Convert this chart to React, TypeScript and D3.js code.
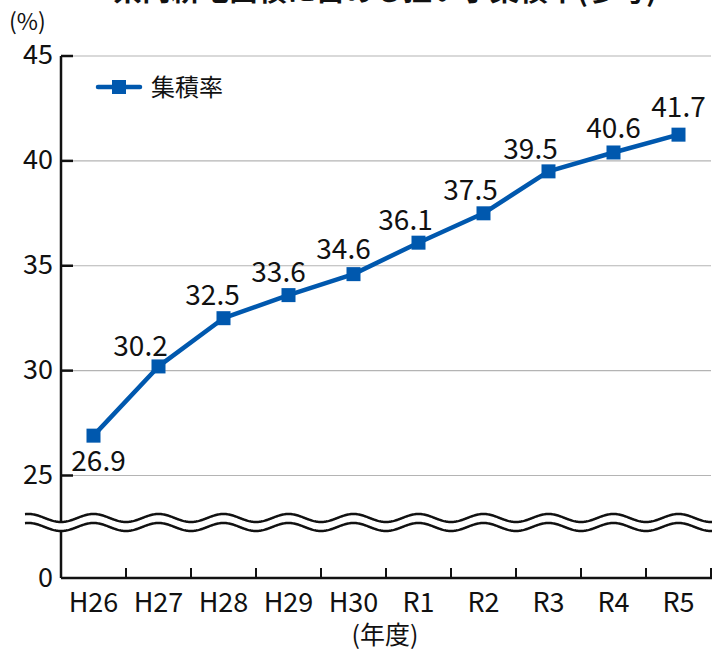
import React from "react";
import * as d3 from "d3";

const categories = ["H26", "H27", "H28", "H29", "H30", "R1", "R2", "R3", "R4", "R5"];
// plotted positions
const values = [26.9, 30.2, 32.5, 33.6, 34.6, 36.1, 37.5, 39.5, 40.4, 41.25];
// printed data labels
const valueLabels = ["26.9", "30.2", "32.5", "33.6", "34.6", "36.1", "37.5", "39.5", "40.6", "41.7"];
const yTicks = [25, 30, 35, 40, 45];
const seriesName = "集積率";
const title = "県内耕地面積に占める担い手集積率(参考)";

// label offsets (layout) relative to each point
const labelDx = [5, -18, -11, -10, -10, -13, -13, -18, 0, 0];
const labelDy = [35, -10, -13, -13, -15, -13, -13, -12, -14, -18];

const W = 725;
const H = 652;
const left = 61;
const right = 711;
const top = 56;
const y25 = 475.5;
const yZero = 578;
const blue = "#0058ae";
const font = "'Noto Sans CJK JP', 'Noto Sans', sans-serif";

export default function App() {
  const x = d3.scaleBand<string>().domain(categories).range([left, right]).paddingInner(0).paddingOuter(0);
  const y = d3.scaleLinear().domain([25, 45]).range([y25, top]);
  const cx = (c: string) => (x(c) as number) + x.bandwidth() / 2;

  const line = d3
    .line<number>()
    .x((_, i) => cx(categories[i]))
    .y((v) => y(v));

  // wavy break lines
  const waveStart = 25;
  const waveEnd = 712;
  const period = x.bandwidth();
  const amp = 4;
  const wavePts = (mid: number) =>
    d3.range(waveStart, waveEnd + 0.5, 1).map((px) => [px, mid + amp * Math.cos((2 * Math.PI * (px - left)) / period)] as [number, number]);
  const upper = wavePts(518);
  const lower = wavePts(527);
  const lineGen = d3.line();
  const fillPoly = [...upper, ...lower.slice().reverse()];

  const tickXs = d3.range(0, categories.length + 1).map((i) => left + i * x.bandwidth());

  return (
    <svg
      width={W}
      height={H}
      style={{ position: "absolute", left: 0, top: 0, overflow: "visible" }}
      fontFamily={font}
    >
      <rect x={0} y={0} width={W} height={H} fill="#fff" />
      {/* title (cut off at top) */}
      <text x={385} y={1} textAnchor="middle" fontSize={29} fontWeight="bold" fill="#111">
        {title}
      </text>
      <text x={9} y={30} fontSize={23} fill="#111">(%)</text>

      {/* grid lines */}
      {yTicks.map((t) => (
        <line key={"g" + t} x1={left} x2={right} y1={y(t)} y2={y(t)} stroke="#b4b4b4" strokeWidth={1.2} />
      ))}

      {/* y axis */}
      <line x1={left} x2={left} y1={top} y2={yZero} stroke="#111" strokeWidth={2.5} />
      {yTicks.map((t) => (
        <g key={"t" + t}>
          <line x1={left} x2={left + 12} y1={y(t)} y2={y(t)} stroke="#111" strokeWidth={2.5} />
          <text x={53} y={y(t) + 8} textAnchor="end" fontSize={27} fill="#111">
            {t}
          </text>
        </g>
      ))}
      <text x={53} y={yZero + 9} textAnchor="end" fontSize={27} fill="#111">0</text>

      {/* x axis */}
      <line x1={left} x2={right + 1} y1={yZero} y2={yZero} stroke="#111" strokeWidth={2.5} />
      {tickXs.map((tx, i) => (
        <line key={"xt" + i} x1={tx} x2={tx} y1={yZero} y2={yZero - 10} stroke="#111" strokeWidth={2} />
      ))}
      {categories.map((c) => (
        <text key={"xl" + c} x={cx(c)} y={612} textAnchor="middle" fontSize={27} fill="#111">
          {c}
        </text>
      ))}
      <text x={385} y={644} textAnchor="middle" fontSize={25} fill="#111">(年度)</text>

      {/* axis break */}
      <path d={lineGen(fillPoly) + "Z"} fill="#fff" stroke="none" />
      <path d={lineGen(upper) as string} fill="none" stroke="#111" strokeWidth={2.5} />
      <path d={lineGen(lower) as string} fill="none" stroke="#111" strokeWidth={2.5} />

      {/* series */}
      <path d={line(values) as string} fill="none" stroke={blue} strokeWidth={4.5} strokeLinejoin="round" />
      {values.map((v, i) => (
        <rect key={"m" + i} x={cx(categories[i]) - 7} y={y(v) - 7} width={14} height={14} fill={blue} />
      ))}
      {values.map((v, i) => (
        <text
          key={"vl" + i}
          x={cx(categories[i]) + labelDx[i]}
          y={y(v) + labelDy[i]}
          textAnchor="middle"
          fontSize={28}
          fill="#111"
        >
          {valueLabels[i]}
        </text>
      ))}

      {/* legend */}
      <line x1={98} x2={140} y1={87} y2={87} stroke={blue} strokeWidth={4.5} strokeLinecap="round" />
      <rect x={112} y={80} width={14} height={14} fill={blue} />
      <text x={151} y={96} fontSize={24} fill="#111">{seriesName}</text>
    </svg>
  );
}
